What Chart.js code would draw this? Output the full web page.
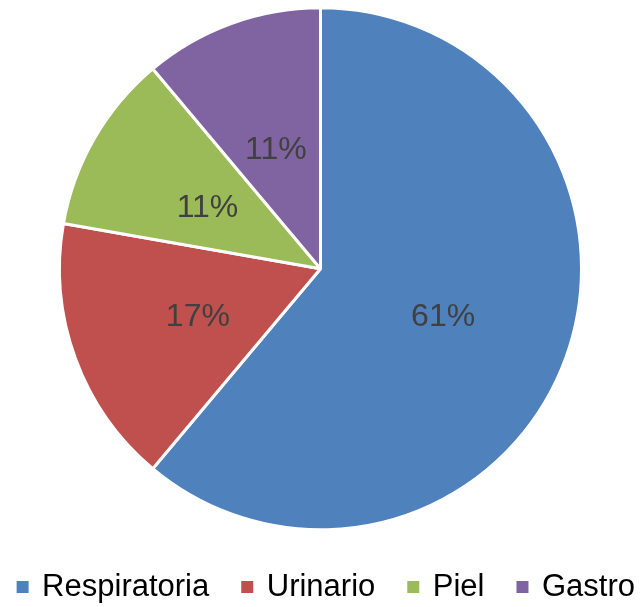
<!DOCTYPE html>
<html>
<head>
  <title>Pie</title>
  <script src="https://cdn.jsdelivr.net/npm/chart.js"></script>
  <style>
    body { margin: 0; background: #fff; }
    #wrap { width: 641px; height: 607px; }
  </style>
</head>
<body>
  <div id="wrap"><canvas id="chart" width="641" height="607"></canvas></div>

  <script>
    const categories = ["Respiratoria", "Urinario", "Piel", "Gastro"];
    const counts = [11, 3, 2, 2];
    const colors = ["#4F81BD", "#C0504D", "#9BBB59", "#8064A2"];

    // percentage labels in the middle of each slice
    const pctLabels = {
      id: "pctLabels",
      afterDatasetsDraw(chart) {
        const c = chart.ctx;
        const total = counts.reduce((a, b) => a + b, 0);
        c.save();
        c.font = "32px 'Liberation Sans', Arial, sans-serif";
        c.fillStyle = "#404040";
        c.textAlign = "center";
        c.textBaseline = "alphabetic";
        chart.getDatasetMeta(0).data.forEach((arc, i) => {
          const p = arc.tooltipPosition();
          c.fillText(Math.round(counts[i] / total * 100) + "%", p.x, p.y + 13);
        });
        c.restore();
      }
    };

    new Chart(document.getElementById("chart"), {
      type: "pie",
      data: {
        labels: categories,
        datasets: [{
          data: counts,
          backgroundColor: colors,
          borderColor: "#ffffff",
          borderWidth: 3,
          radius: 261
        }]
      },
      options: {
        responsive: false,
        animation: false,
        layout: { padding: { top: 0, bottom: -5.5, left: -28, right: -28 } },
        plugins: {
          tooltip: { enabled: false },
          legend: {
            position: "bottom",
            align: "end",
            labels: {
              usePointStyle: true,
              boxWidth: 8,
              boxHeight: 12,
              padding: 34,
              color: "#505050",
              font: { size: 31, family: "'Liberation Sans', Arial, sans-serif" },
              generateLabels: () => categories.map((t, i) => ({
                text: t, fillStyle: colors[i], strokeStyle: colors[i],
                lineWidth: 0, pointStyle: "rect", hidden: false, index: i
              }))
            }
          }
        }
      },
      plugins: [pctLabels]
    });
  </script>
</body>
</html>
